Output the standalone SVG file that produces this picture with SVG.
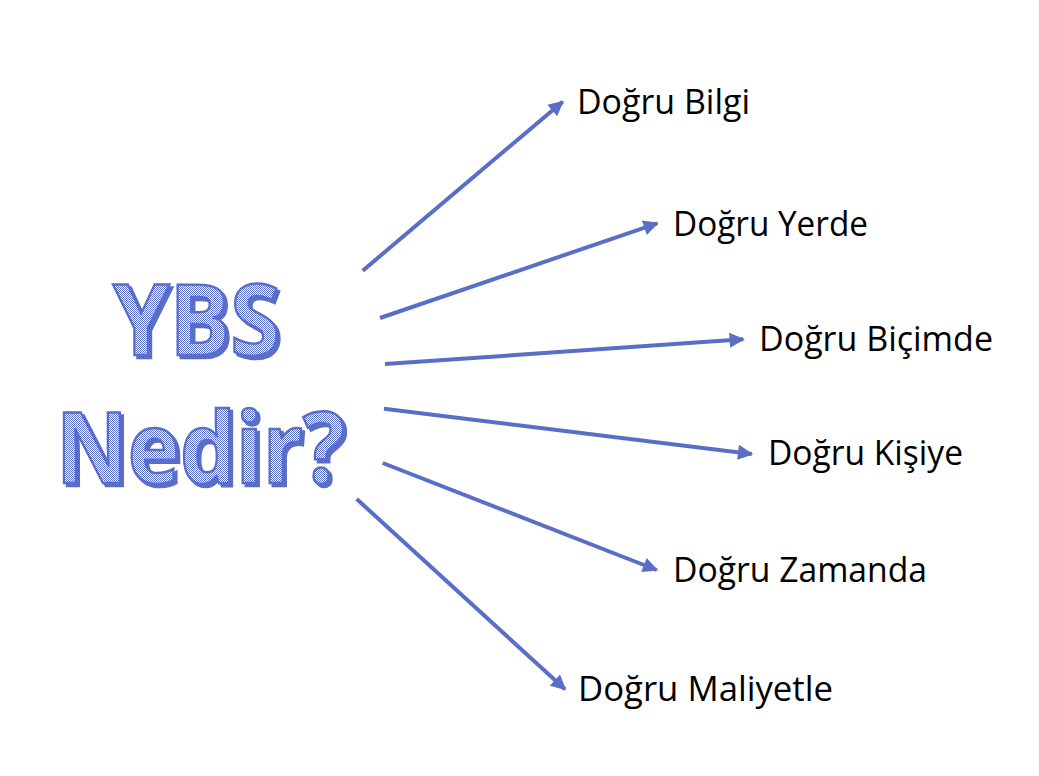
<svg xmlns="http://www.w3.org/2000/svg" width="1039" height="776" viewBox="0 0 1039 776">
<defs>
<pattern id="chk" patternUnits="userSpaceOnUse" width="2" height="2">
<rect width="2" height="2" fill="#ffffff"/>
<rect width="1" height="1" fill="#5a6ec7"/>
<rect x="1" y="1" width="1" height="1" fill="#5a6ec7"/>
</pattern>
<filter id="shadow" x="-10%" y="-10%" width="120%" height="130%">
<feFlood flood-color="#5a6ec7" result="c"/>
<feComposite in="c" in2="SourceAlpha" operator="in" result="s"/>
<feOffset in="s" dx="3" dy="3" result="o"/>
<feMerge><feMergeNode in="o"/><feMergeNode in="SourceGraphic"/></feMerge>
</filter>
<marker id="ah" viewBox="0 0 10 10" refX="9" refY="5" markerWidth="4.5" markerHeight="3.8" markerUnits="strokeWidth" orient="auto">
<path d="M0,0 L10,5 L0,10 z" fill="#5a6ec7"/>
</marker>
</defs>
<style>
.lbl{font-family:"Open Sans","Noto Sans",sans-serif;font-size:34.5px;fill:#000;}
.big{font-family:"Open Sans","Noto Sans",sans-serif;font-weight:bold;font-size:98px;fill:url(#chk);stroke:#5a6ec7;stroke-width:2.5;}
.con{stroke:#5a6ec7;stroke-width:4;fill:none;marker-end:url(#ah);}
</style>
<rect width="1039" height="776" fill="#ffffff"/>
<g id="center" filter="url(#shadow)">
<text class="big" x="113" y="355" textLength="167" lengthAdjust="spacingAndGlyphs">YBS</text>
<text class="big" x="56" y="483" textLength="289" lengthAdjust="spacingAndGlyphs">Nedir?</text>
</g>
<g id="connectors">
<line class="con" x1="362.7" y1="270.7" x2="562.7" y2="101.7"/>
<line class="con" x1="380" y1="318" x2="657.3" y2="223.3"/>
<line class="con" x1="385" y1="364" x2="743.3" y2="339.3"/>
<line class="con" x1="384" y1="408.7" x2="751.7" y2="454"/>
<line class="con" x1="382.7" y1="463" x2="656.7" y2="570"/>
<line class="con" x1="356.7" y1="499" x2="565" y2="689.3"/>
</g>
<g id="n1"><text class="lbl" x="577" y="113.5" textLength="173" lengthAdjust="spacingAndGlyphs">Doğru Bilgi</text></g>
<g id="n2"><text class="lbl" x="673" y="236" textLength="195" lengthAdjust="spacingAndGlyphs">Doğru Yerde</text></g>
<g id="n3"><text class="lbl" x="759" y="350.7" textLength="234" lengthAdjust="spacingAndGlyphs">Doğru Biçimde</text></g>
<g id="n4"><text class="lbl" x="768" y="465" textLength="195" lengthAdjust="spacingAndGlyphs">Doğru Kişiye</text></g>
<g id="n5"><text class="lbl" x="673" y="581.7" textLength="254" lengthAdjust="spacingAndGlyphs">Doğru Zamanda</text></g>
<g id="n6"><text class="lbl" x="578" y="701" textLength="255" lengthAdjust="spacingAndGlyphs">Doğru Maliyetle</text></g>
</svg>
